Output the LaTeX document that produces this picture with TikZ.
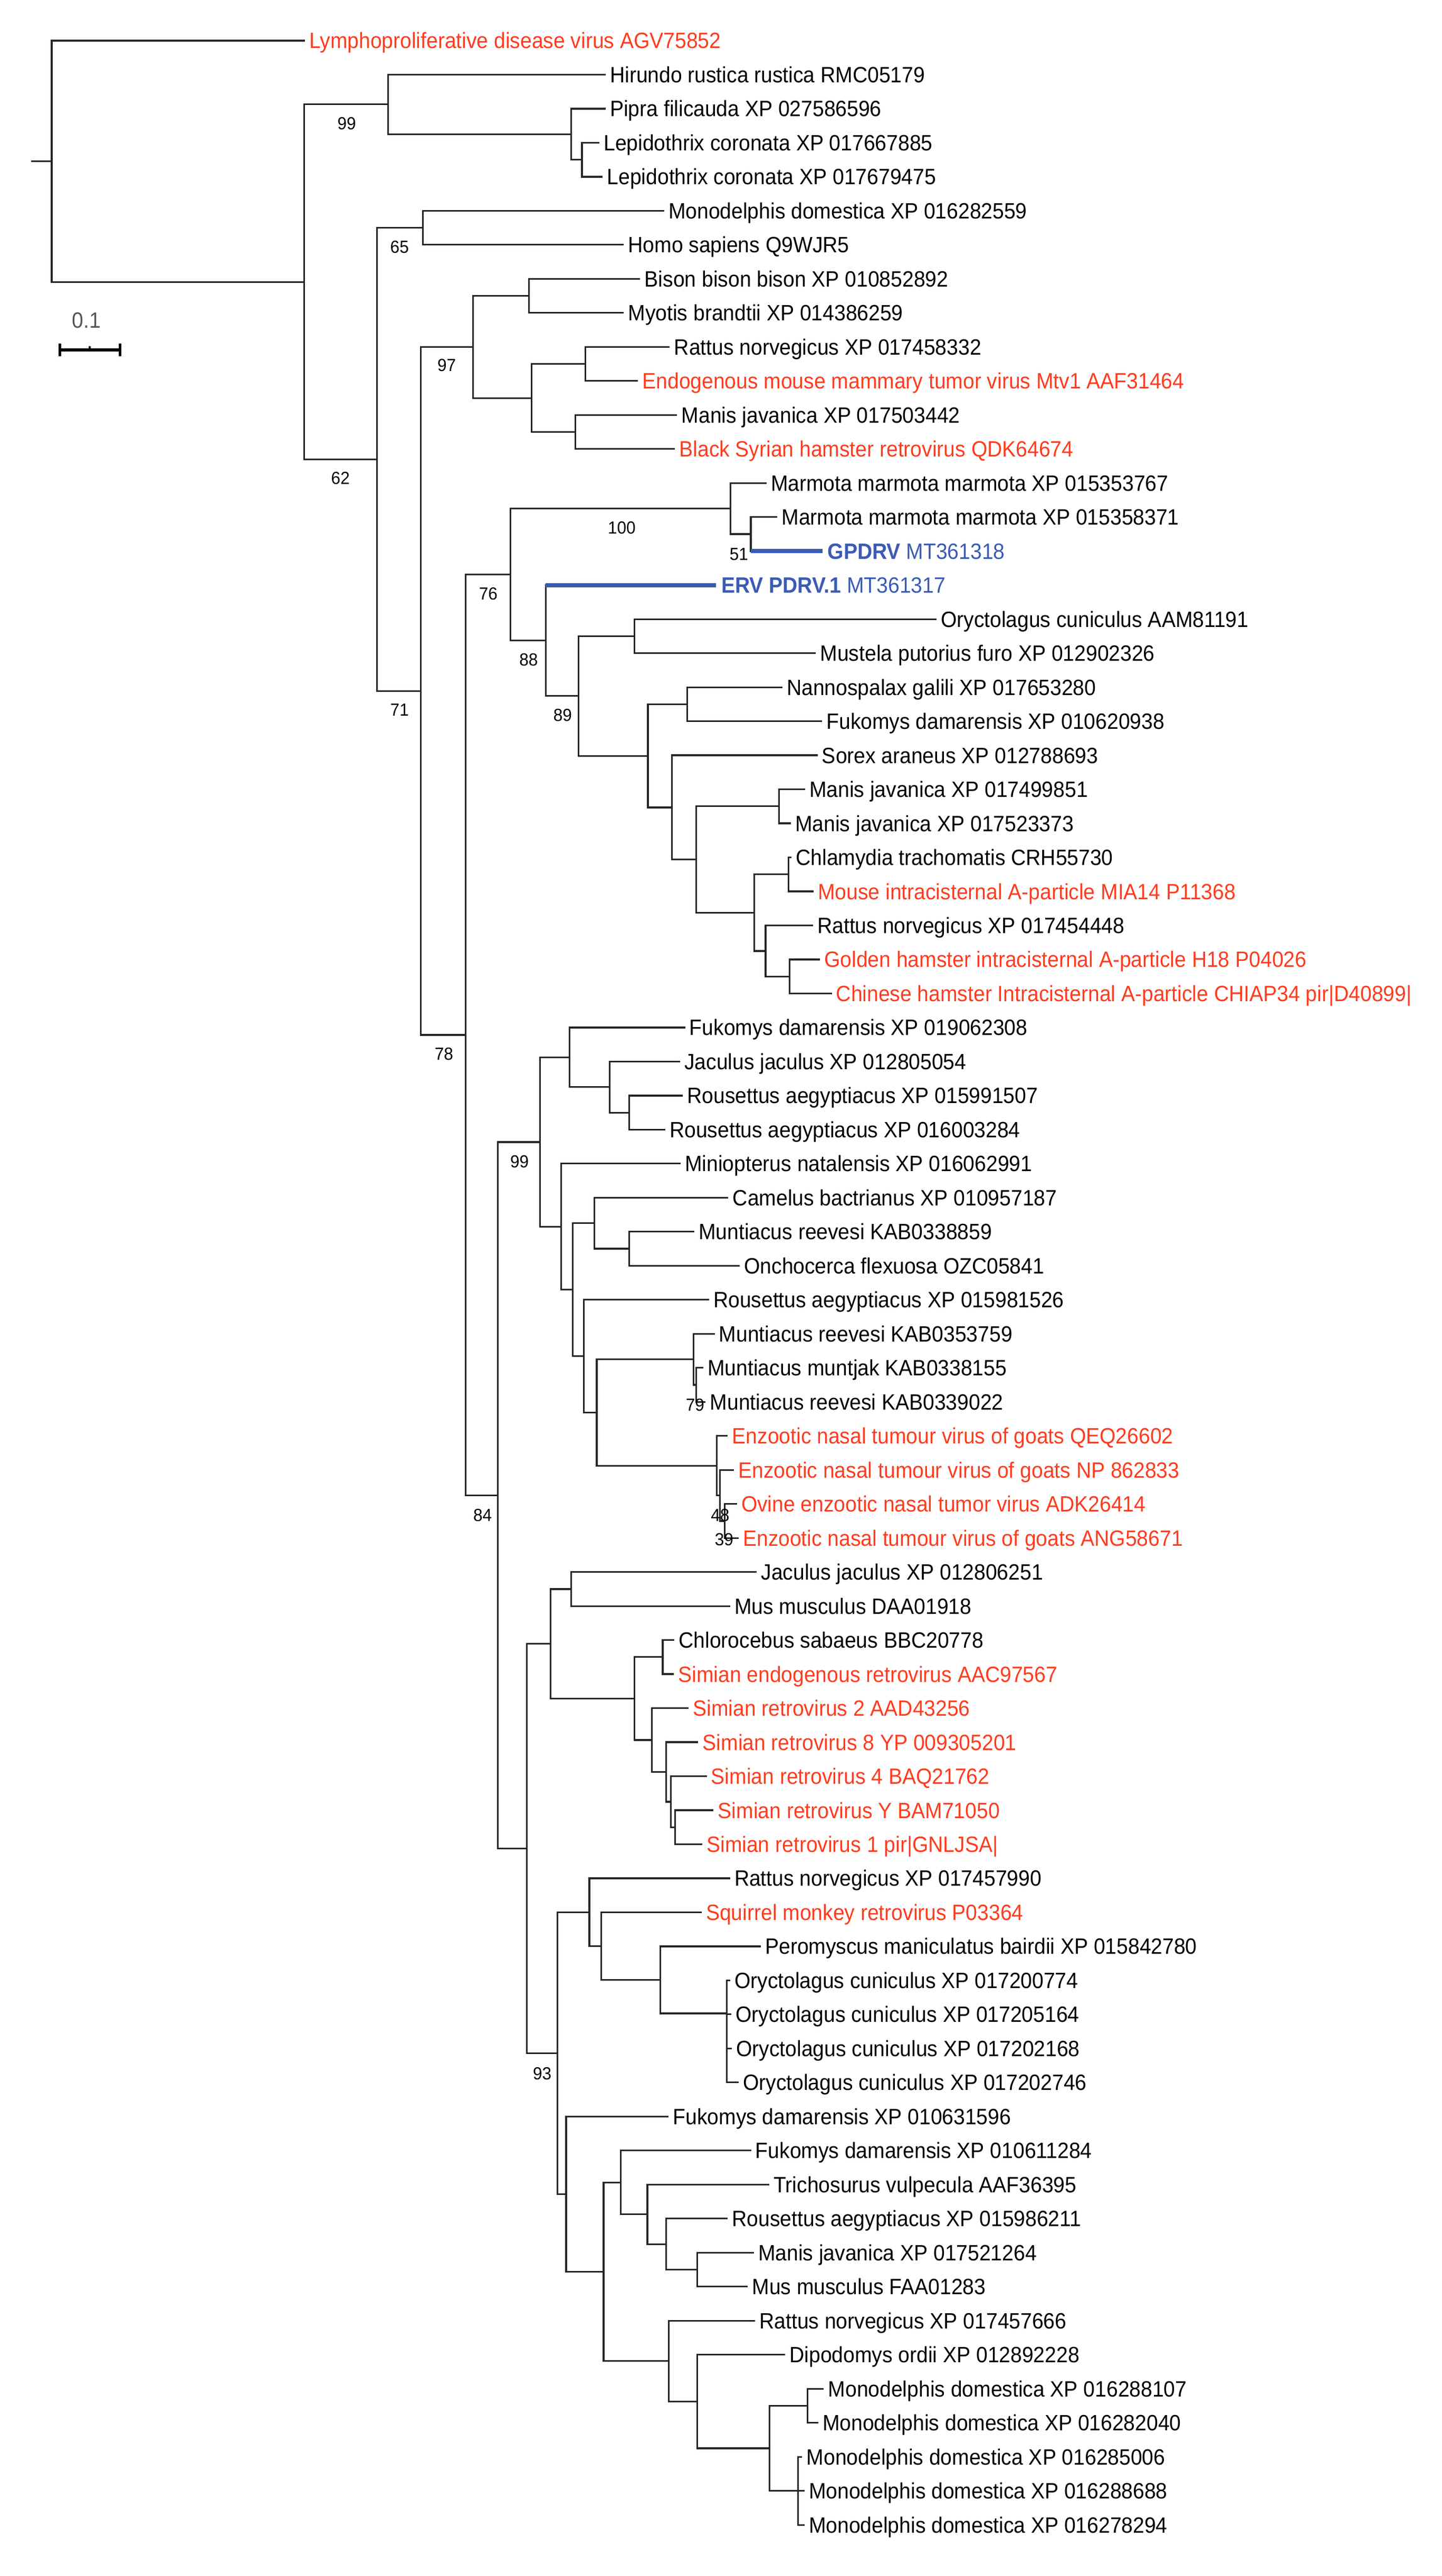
\documentclass[tikz,border=0pt]{standalone}
\usepackage{fontspec}
\setmainfont{Liberation Sans}[FakeStretch=0.93]
\newfontfamily\bsf{Liberation Sans}[FakeStretch=0.95]
\definecolor{vred}{HTML}{FF3B1E}
\definecolor{vblue}{HTML}{3A5BB5}
\definecolor{sgrey}{HTML}{555555}
\newcommand\leaf[4]{\coordinate (l#1) at (#2,{77+64.48*#1}); \node[lf,#3] (t#1) at (l#1) {#4};}
\begin{document}
\begin{tikzpicture}[x=0.2693pt,y=-0.25pt,
  br/.style={line width=0.8pt,black!85,line cap=rect},
  lf/.style={anchor=west,inner sep=0pt,xshift=2.3pt,font=\fontsize{10.5}{12}\selectfont,text height=7.5pt,text depth=0pt},
  red/.style={text=vred},
  bl/.style={text=vblue},
  bs/.style={inner sep=0pt,font=\bsf\fontsize{8.3}{9}\selectfont}]
\useasboundingbox[fill=white] (0,0) rectangle (2537,4881);
% internal nodes
\foreach \n/\x/\y in {root/91/305.6,P/535/534.2,N99/683/197.9,Q/1005/254.3,R/1024/302.7,
 A/663/870.5,N65/744/431.7,B/740/1309.2,N97/832/657.4,S/931/560.6,T/935/754.1,U/1030/689.6,V/1012/818.6,
 C/819/1961,N76/898/1088.7,N100/1285/963.6,W/1321/1012,N88/960/1213.8,N89/1018/1318.8,X/1116/1205.4,
 Y/1140/1432.2,Z/1209/1334.4,Y2/1182/1529.9,AA/1225/1628.6,AB/1371/1527.8,AC/1327/1729.4,AD/1387/1656.8,
 AE/1347/1801.9,AF/1389/1850.2,
 D/876/2833.3,E/950/2163.9,F/1002/2003.4,H/1073/2059.8,I/1107/2108.2,G/987/2324.3,J/1008/2443.7,
 K/1046/2317.7,M/1107/2366,L/1027/2569.6,N/1050/2676.4,O1/1220/2575.6,O1b/1225/2624,O2/1261/2777.2,
 O3/1267/2833.6,O4/1275/2881.9,
 Q1/927/3502.6,R1/969/3114.7,T1/1005/3010.9,U1/1116/3218.4,V1/1166/3139.8,W1/1147/3297,X1/1172/3357.5,
 Y1/1180/3413.9,Z1/1188/3462.2,S1/981/3890.4,A2/1037/3623.2,B2/1058/3687.5,C2/1162/3751.5,D2/1279/3815,
 E2/996/4157.5,F2/1062/4304.6,G2/1092/4135.3,I2/1139/4195.7,J2/1172/4252.1,K2/1227/4300.5,
 H2/1177/4473.8,L2/1227/4550.3,M2/1354/4639,N2/1421/4558.4,O5/1404/4719.6}
  {\coordinate (\n) at (\x,\y);}
\coordinate (stub) at (56,305.6);
% leaves
\leaf{0}{535}{red}{Lymphoproliferative disease virus AGV75852}
\leaf{1}{1064}{}{Hirundo rustica rustica RMC05179}
\leaf{2}{1064}{}{Pipra filicauda XP 027586596}
\leaf{3}{1053}{}{Lepidothrix coronata XP 017667885}
\leaf{4}{1059}{}{Lepidothrix coronata XP 017679475}
\leaf{5}{1167}{}{Monodelphis domestica XP 016282559}
\leaf{6}{1096}{}{Homo sapiens Q9WJR5}
\leaf{7}{1125}{}{Bison bison bison XP 010852892}
\leaf{8}{1096}{}{Myotis brandtii XP 014386259}
\leaf{9}{1177}{}{Rattus norvegicus XP 017458332}
\leaf{10}{1121}{red}{Endogenous mouse mammary tumor virus Mtv1 AAF31464}
\leaf{11}{1190}{}{Manis javanica XP 017503442}
\leaf{12}{1186}{red}{Black Syrian hamster retrovirus QDK64674}
\leaf{13}{1347}{}{Marmota marmota marmota XP 015353767}
\leaf{14}{1366}{}{Marmota marmota marmota XP 015358371}
\leaf{15}{1447}{bl}{\textbf{GPDRV} MT361318}
\leaf{16}{1260}{bl}{\textbf{ERV PDRV.1} MT361317}
\leaf{17}{1646}{}{Oryctolagus cuniculus AAM81191}
\leaf{18}{1434}{}{Mustela putorius furo XP 012902326}
\leaf{19}{1375}{}{Nannospalax galili XP 017653280}
\leaf{20}{1445}{}{Fukomys damarensis XP 010620938}
\leaf{21}{1437}{}{Sorex araneus XP 012788693}
\leaf{22}{1415}{}{Manis javanica XP 017499851}
\leaf{23}{1390}{}{Manis javanica XP 017523373}
\leaf{24}{1391}{}{Chlamydia trachomatis CRH55730}
\leaf{25}{1430}{red}{Mouse intracisternal A-particle MIA14 P11368}
\leaf{26}{1429}{}{Rattus norvegicus XP 017454448}
\leaf{27}{1441}{red}{Golden hamster intracisternal A-particle H18 P04026}
\leaf{28}{1462}{red}{Chinese hamster Intracisternal A-particle CHIAP34 pir|D40899|}
\leaf{29}{1204}{}{Fukomys damarensis XP 019062308}
\leaf{30}{1195}{}{Jaculus jaculus XP 012805054}
\leaf{31}{1200}{}{Rousettus aegyptiacus XP 015991507}
\leaf{32}{1169}{}{Rousettus aegyptiacus XP 016003284}
\leaf{33}{1196}{}{Miniopterus natalensis XP 016062991}
\leaf{34}{1280}{}{Camelus bactrianus XP 010957187}
\leaf{35}{1220}{}{Muntiacus reevesi KAB0338859}
\leaf{36}{1300}{}{Onchocerca flexuosa OZC05841}
\leaf{37}{1246}{}{Rousettus aegyptiacus XP 015981526}
\leaf{38}{1256}{}{Muntiacus reevesi KAB0353759}
\leaf{39}{1236}{}{Muntiacus muntjak KAB0338155}
\leaf{40}{1240}{}{Muntiacus reevesi KAB0339022}
\leaf{41}{1279}{red}{Enzootic nasal tumour virus of goats QEQ26602}
\leaf{42}{1290}{red}{Enzootic nasal tumour virus of goats NP 862833}
\leaf{43}{1295}{red}{Ovine enzootic nasal tumor virus ADK26414}
\leaf{44}{1298}{red}{Enzootic nasal tumour virus of goats ANG58671}
\leaf{45}{1330}{}{Jaculus jaculus XP 012806251}
\leaf{46}{1283}{}{Mus musculus DAA01918}
\leaf{47}{1185}{}{Chlorocebus sabaeus BBC20778}
\leaf{48}{1184}{red}{Simian endogenous retrovirus AAC97567}
\leaf{49}{1210}{red}{Simian retrovirus 2 AAD43256}
\leaf{50}{1227}{red}{Simian retrovirus 8 YP 009305201}
\leaf{51}{1242}{red}{Simian retrovirus 4 BAQ21762}
\leaf{52}{1254}{red}{Simian retrovirus Y BAM71050}
\leaf{53}{1234}{red}{Simian retrovirus 1 pir|GNLJSA|}
\leaf{54}{1283}{}{Rattus norvegicus XP 017457990}
\leaf{55}{1233}{red}{Squirrel monkey retrovirus P03364}
\leaf{56}{1337}{}{Peromyscus maniculatus bairdii XP 015842780}
\leaf{57}{1283}{}{Oryctolagus cuniculus XP 017200774}
\leaf{58}{1285}{}{Oryctolagus cuniculus XP 017205164}
\leaf{59}{1286}{}{Oryctolagus cuniculus XP 017202168}
\leaf{60}{1298}{}{Oryctolagus cuniculus XP 017202746}
\leaf{61}{1175}{}{Fukomys damarensis XP 010631596}
\leaf{62}{1320}{}{Fukomys damarensis XP 010611284}
\leaf{63}{1352}{}{Trichosurus vulpecula AAF36395}
\leaf{64}{1279}{}{Rousettus aegyptiacus XP 015986211}
\leaf{65}{1325}{}{Manis javanica XP 017521264}
\leaf{66}{1314}{}{Mus musculus FAA01283}
\leaf{67}{1327}{}{Rattus norvegicus XP 017457666}
\leaf{68}{1380}{}{Dipodomys ordii XP 012892228}
\leaf{69}{1448}{}{Monodelphis domestica XP 016288107}
\leaf{70}{1438}{}{Monodelphis domestica XP 016282040}
\leaf{71}{1410}{}{Monodelphis domestica XP 016285006}
\leaf{72}{1414}{}{Monodelphis domestica XP 016288688}
\leaf{73}{1414}{}{Monodelphis domestica XP 016278294}
% internal branches
\draw[br] (stub) -- (root);
\foreach \p/\c in {root/P,P/N99,P/A,N99/Q,Q/R,A/N65,A/B,B/N97,B/C,N97/S,N97/T,T/U,T/V,
 C/N76,C/D,N76/N100,N76/N88,N100/W,N88/N89,N89/X,N89/Y,Y/Z,Y/Y2,Y2/AA,AA/AB,AA/AC,AC/AD,AC/AE,AE/AF,
 D/E,D/Q1,E/F,E/G,F/H,H/I,G/J,J/K,J/L,K/M,L/N,N/O1,N/O2,O1/O1b,O2/O3,O3/O4,
 Q1/R1,Q1/S1,R1/T1,R1/U1,U1/V1,U1/W1,W1/X1,X1/Y1,Y1/Z1,S1/A2,S1/E2,A2/B2,B2/C2,C2/D2,
 E2/F2,F2/G2,F2/H2,G2/I2,I2/J2,J2/K2,H2/L2,L2/M2,M2/N2,M2/O5}
  {\draw[br] (\p) |- (\c);}
% leaf branches
\foreach \p/\c in {root/l0,N99/l1,Q/l2,R/l3,R/l4,N65/l5,N65/l6,S/l7,S/l8,U/l9,U/l10,V/l11,V/l12,
 N100/l13,W/l14,X/l17,X/l18,Z/l19,Z/l20,Y2/l21,AB/l22,AB/l23,AD/l24,AD/l25,AE/l26,AF/l27,AF/l28,
 F/l29,H/l30,I/l31,I/l32,G/l33,K/l34,M/l35,M/l36,L/l37,O1/l38,O1b/l39,O1b/l40,O2/l41,O3/l42,O4/l43,O4/l44,
 T1/l45,T1/l46,V1/l47,V1/l48,W1/l49,X1/l50,Y1/l51,Z1/l52,Z1/l53,A2/l54,B2/l55,C2/l56,
 D2/l57,D2/l58,D2/l59,D2/l60,E2/l61,G2/l62,I2/l63,J2/l64,K2/l65,K2/l66,H2/l67,L2/l68,N2/l69,N2/l70,
 O5/l71,O5/l72,O5/l73}
  {\draw[br] (\p) |- (\c);}
\draw[br] (W) |- (l15 -| W);
\draw[vblue,line width=2pt] (l15 -| W) -- (l15);
\draw[br] (N88) -- (N88 |- l16);
\draw[vblue,line width=2pt] (N88 |- l16) -- (l16);
% bootstrap values
\foreach \t/\x/\y in {99/610/234,62/599/906,65/703/468,97/786/692,71/703/1345,78/781/1997,76/859/1125,
 100/1094/1000,51/1300/1050,88/930/1250,89/990/1355,84/849/2871,99/914/2201,79/1223/2662,
 48/1267/2871,39/1274/2917,93/954/3929}
  {\node[bs] (bs\t\x) at (\x,\y) {\t};}
% scale bar
\coordinate (sb1) at (105,663); \coordinate (sb2) at (211,663); \coordinate (sbm) at (158,663);
\draw[line width=1.3pt] (sb1) -- (sb2);
\draw[line width=1.3pt] ([yshift=3pt]sb1) -- ([yshift=-3pt]sb1);
\draw[line width=1.3pt] ([yshift=3pt]sb2) -- ([yshift=-3pt]sb2);
\draw[line width=1pt] (sbm) -- ([yshift=1.8pt]sbm);
\node[text=sgrey,font=\fontsize{10.5}{12}\selectfont,inner sep=0pt] (sbl) at (152,607) {0.1};
\end{tikzpicture}
\end{document}
